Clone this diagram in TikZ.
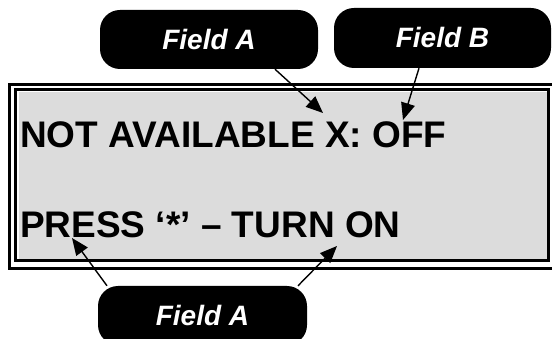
\documentclass[tikz,border=0pt]{standalone}
\usepackage{fontspec}
\setmainfont{Liberation Sans}
\usetikzlibrary{arrows.meta}
\definecolor{lcdgray}{HTML}{DCDCDC}
\begin{document}
\begin{tikzpicture}[x=1pt,y=-1pt,
  callout/.style={fill=black, rounded corners=20pt, text=white,
    font=\bfseries\itshape\fontsize{28}{32}\selectfont, inner sep=0pt},
  lcdtext/.style={anchor=base west, font=\bfseries\fontsize{37}{44}\selectfont, inner sep=0pt},
  pointer/.style={-{Triangle[length=17pt,width=14pt]}, line width=1.4pt}]
\useasboundingbox (0,0) rectangle (552,339);
\clip (0,0) rectangle (552,339);
% LCD frame
\fill[lcdgray] (19,92) rectangle (547,259);
\draw[line width=3pt] (15.5,89.5) rectangle (548.5,260.5);
\draw[line width=3pt] (9.5,85) rectangle (560,268.5);
% LCD text
\node[lcdtext] (l1) at (20,148) {NOT AVAILABLE X: OFF};
\node[lcdtext] (l2) at (20,238) {PRESS ‘*’ – TURN ON};
% callouts
\node[callout, minimum width=218pt, minimum height=59pt] (fa) at (209,39.5) {Field A};
\node[callout, minimum width=217pt, minimum height=60pt] (fb) at (442.5,38) {Field B};
\node[callout, minimum width=209pt, minimum height=59pt] (fc) at (202.5,315.5) {Field A};
% arrow tips
\coordinate (tA) at (323,113);
\coordinate (tB) at (403,120);
\coordinate (tC) at (72,238);
\coordinate (tD) at (337,246);
\draw[pointer] ([xshift=66pt]fa.south) -- (tA);
\draw[pointer] ([xshift=-23.5pt]fb.south) -- (tB);
\draw[pointer] ([xshift=-95.5pt]fc.north) -- (tC);
\draw[pointer] ([xshift=95.5pt]fc.north) -- (tD);
\end{tikzpicture}
\end{document}
